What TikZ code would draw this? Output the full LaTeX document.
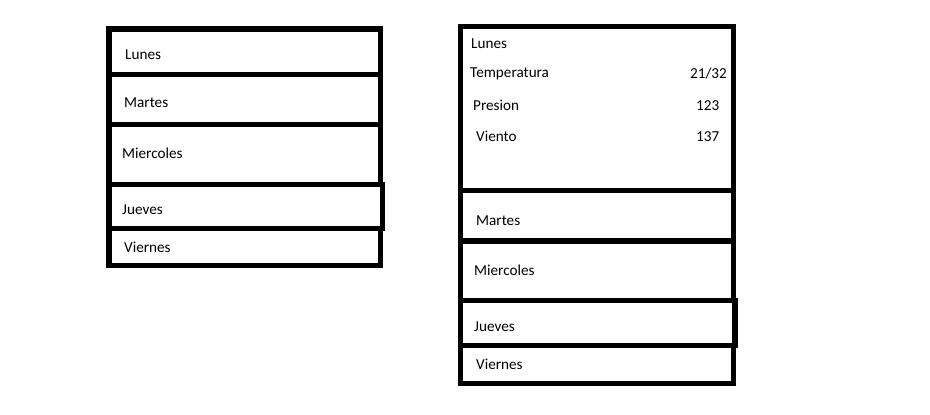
\documentclass[tikz,border=0pt]{standalone}
\usepackage{fontspec}
\setmainfont{Carlito}
\begin{document}
\begin{tikzpicture}[x=1pt,y=-1pt,
  box/.style={draw=black,line width=5.5pt,line join=miter},
  lbl/.style={anchor=base west,inner sep=0pt,font=\fontsize{15.2}{18}\selectfont,text=black}]
\useasboundingbox[fill=white] (0,0) rectangle (930,415);
% left column
\draw[box] (109,29) rectangle (380.5,74.5);
\draw[box] (109,74.5) rectangle (380.5,124.5);
\draw[box] (109,124.5) rectangle (380.5,184.5);
\draw[box] (109,184.5) rectangle (382.5,228.5);
\draw[box] (109,228.5) rectangle (380.5,265.5);
\node[lbl] (l1) at (125,59) {Lunes};
\node[lbl] (l2) at (124,107.7) {Martes};
\node[lbl] (l3) at (122,158.7) {Miercoles};
\node[lbl] (l4) at (122,214) {Jueves};
\node[lbl] (l5) at (124,252) {Viernes};
% right column
\draw[box] (460.5,26.5) rectangle (733.5,190.5);
\draw[box] (460.5,190.5) rectangle (733.5,241);
\draw[box] (460.5,241) rectangle (733.5,300.5);
\draw[box] (460.5,300.5) rectangle (735,345.5);
\draw[box] (460.5,345.5) rectangle (733.5,383.5);
\node[lbl] (r1) at (471,48.3) {Lunes};
\node[lbl] (t) at (470,77.7) {Temperatura};
\node[lbl] (tv) at (690,78) {21/32};
\node[lbl] (p) at (473,110) {Presion};
\node[lbl] (pv) at (696,110.5) {123};
\node[lbl] (v) at (476,141) {Viento};
\node[lbl] (vv) at (696,141.5) {137};
\node[lbl] (r2) at (476,225) {Martes};
\node[lbl] (r3) at (474,275.7) {Miercoles};
\node[lbl] (r4) at (474,331) {Jueves};
\node[lbl] (r5) at (476,369) {Viernes};
\end{tikzpicture}
\end{document}
